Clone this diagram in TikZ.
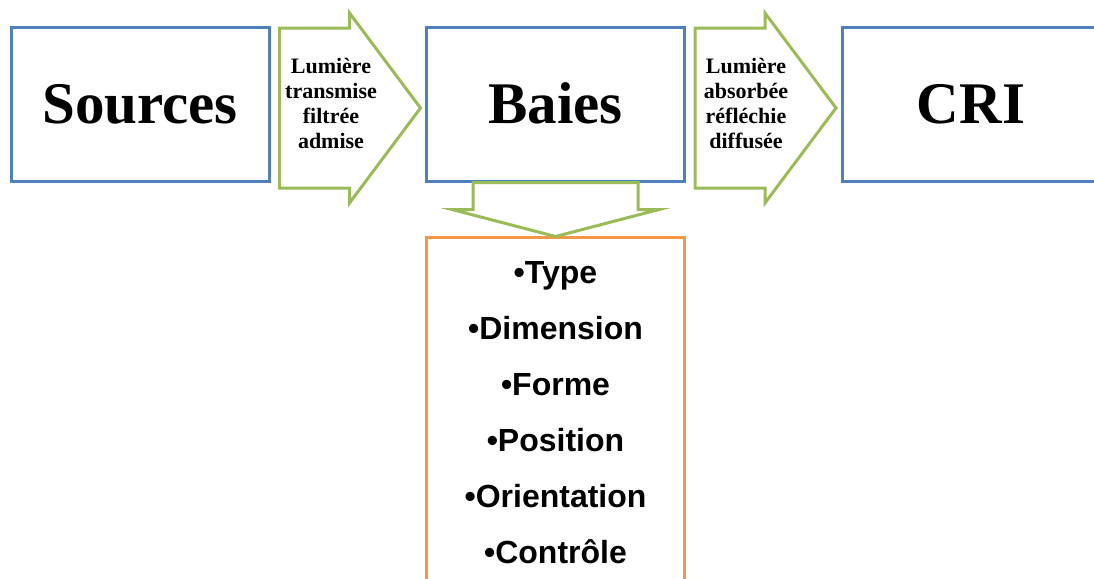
\documentclass[tikz,border=0pt]{standalone}
\usepackage{fontspec}
\setmainfont{Liberation Serif}
\newfontfamily\critfont{Liberation Sans}
\usetikzlibrary{calc}
\usepackage{xcolor}
\definecolor{boxblue}{HTML}{4F81BD}
\definecolor{flowgreen}{HTML}{9BBB59}
\definecolor{listorange}{HTML}{F79646}

\tikzset{
 stage/.style={draw=boxblue, line width=1.5pt, minimum width=129pt, minimum height=77pt, inner sep=0, text height=19.5pt, text depth=0pt, font=\fontsize{29.5}{34}\selectfont\bfseries},
 flow/.style={draw=flowgreen, line width=1.5pt, fill=white, line join=miter},
 flowtext/.style={align=center, inner sep=0, font=\fontsize{11}{12.5}\selectfont\bfseries},
 critbox/.style={draw=listorange, line width=1.5pt, minimum width=129pt, minimum height=190pt, anchor=north},
 crit/.style={inner sep=0, anchor=base, font=\critfont\fontsize{16}{19}\selectfont\bfseries}
}

\begin{document}
\begin{tikzpicture}[x=.5pt, y=-.5pt]
\useasboundingbox (0,0) rectangle (1094,579);
\clip (0,0) rectangle (1094,579);
% stages
\node[stage] (src) at (140,104) {Sources};
\node[stage] (baies) at (555.5,104) {Baies};
\node[stage] (cri) at (971,104) {CRI};
\node[critbox] (crit) at (555.5,236) {};
% block arrows
\draw[flow] ($(src.east)+(9,-76)$) --++(70,0) --++(0,-15) --++(71,95) --++(-71,95) --++(0,-15) --++(-70,0) -- cycle;
\draw[flow] ($(baies.east)+(9,-76)$) --++(70,0) --++(0,-15) --++(71,95) --++(-71,95) --++(0,-15) --++(-70,0) -- cycle;
\draw[flow] ($(baies.south)+(-82.5,0)$) --++(0,27) --++(-21,0) --++(103.5,27) --++(103.5,-27) --++(-21,0) --++(0,-27) -- cycle;
\node[flowtext] (lum1) at (331,103) {Lumière\\transmise\\filtrée\\admise};
\node[flowtext] (lum2) at (746,103) {Lumière\\absorbée\\réfléchie\\diffusée};
% criteres
\foreach \t [count=\i] in {Type,Dimension,Forme,Position,Orientation,Contrôle} {
 \node[crit] (crit\i) at (555.5,227+56*\i) {•\t};
}
\end{tikzpicture}
\end{document}
